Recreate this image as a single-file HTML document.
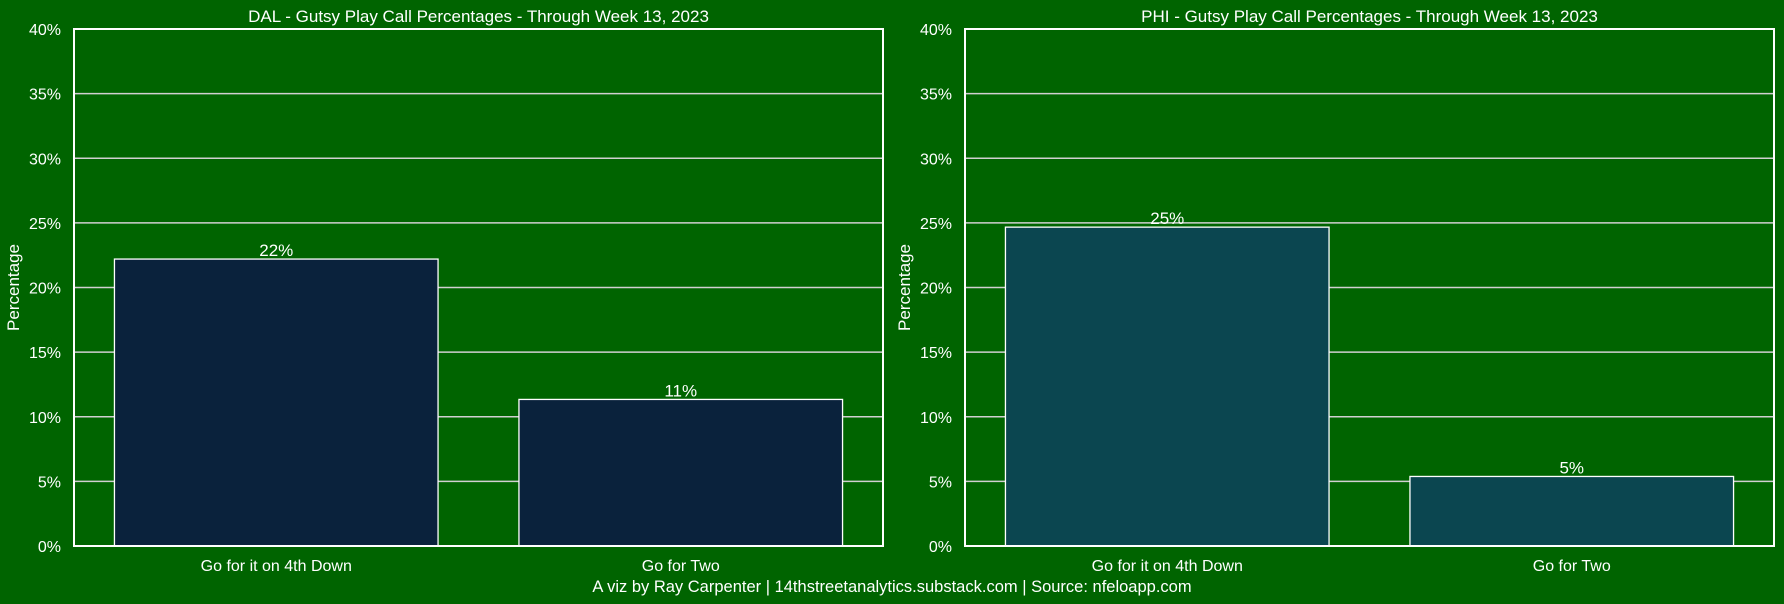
<!DOCTYPE html>
<html><head><meta charset="utf-8"><style>
html,body{margin:0;padding:0;background:#006400;}
svg{display:block;font-family:"Liberation Sans",sans-serif;}
</style></head><body>
<svg id="c" width="1784" height="604" xmlns="http://www.w3.org/2000/svg">
<rect width="1784" height="604" fill="#006400"/>
<text x="892" y="592" fill="#fff" font-size="16.5" text-anchor="middle">A viz by Ray Carpenter | 14thstreetanalytics.substack.com | Source: nfeloapp.com</text>
</svg>
<script>
const categories = ["Go for it on 4th Down", "Go for Two"];
const dalValues = [22.2, 11.34];
const phiValues = [24.67, 5.38];
const dalLabels = ["22%", "11%"];
const phiLabels = ["25%", "5%"];
const yTicks = [0, 5, 10, 15, 20, 25, 30, 35, 40];
const panelTitles = ["DAL - Gutsy Play Call Percentages - Through Week 13, 2023", "PHI - Gutsy Play Call Percentages - Through Week 13, 2023"];

const svgEl = document.getElementById('c');
const NS = 'http://www.w3.org/2000/svg';
function mk(tag, attrs, text){
  const e = document.createElementNS(NS, tag);
  for (const k in attrs) e.setAttribute(k, attrs[k]);
  if (text !== undefined) e.textContent = text;
  svgEl.appendChild(e);
  return e;
}
const plotTop = 29, plotBottom = 546, yMax = 40;
function yScale(v){ return plotBottom - (v / yMax) * (plotBottom - plotTop); }

function panel(x0, x1, values, labels, color, title, prefix){
  const w = x1 - x0;
  const band = w / categories.length;
  const barW = band * 0.8;
  function xScale(i){ return x0 + band * i + band / 2; }
  yTicks.forEach(t => {
    const y = yScale(t);
    const g = mk('line', {x1: x0, x2: x1, y1: y, y2: y, stroke: '#d0d0d0', 'stroke-width': 1.5});
    
    
    const l = mk('text', {x: x0 - 13, y: y + 6, fill: '#fff', 'font-size': 16, 'text-anchor': 'end'}, t + '%');
    
    
  });
  values.forEach((v, i) => {
    const cx = xScale(i);
    const b = mk('rect', {x: cx - barW / 2, y: yScale(v), width: barW, height: plotBottom - yScale(v), fill: color, stroke: '#fff', 'stroke-width': 1.3});
    
    
    const vl = mk('text', {x: cx, y: yScale(v) - 3, fill: '#fff', 'font-size': 17, 'text-anchor': 'middle'}, labels[i]);
    
    
    const xl = mk('text', {x: cx, y: 571, fill: '#fff', 'font-size': 16, 'text-anchor': 'middle'}, categories[i]);
    
    
  });
  const fr = mk('rect', {x: x0, y: plotTop, width: w, height: plotBottom - plotTop, fill: 'none', stroke: '#fff', 'stroke-width': 2});
  
  
  const tt = mk('text', {x: (x0 + x1) / 2, y: 22, fill: '#fff', 'font-size': 17, 'text-anchor': 'middle'}, title);
  
  
  const yt = mk('text', {x: 0, y: 0, fill: '#fff', 'font-size': 17, 'text-anchor': 'middle', transform: 'translate(' + (x0 - 55) + ',' + ((plotTop + plotBottom) / 2) + ') rotate(-90)'}, 'Percentage');
  
  
}
panel(74, 883, dalValues, dalLabels, '#0a223c', panelTitles[0], 'dal');
panel(965, 1774, phiValues, phiLabels, '#0b4650', panelTitles[1], 'phi');
</script>
</body></html>
